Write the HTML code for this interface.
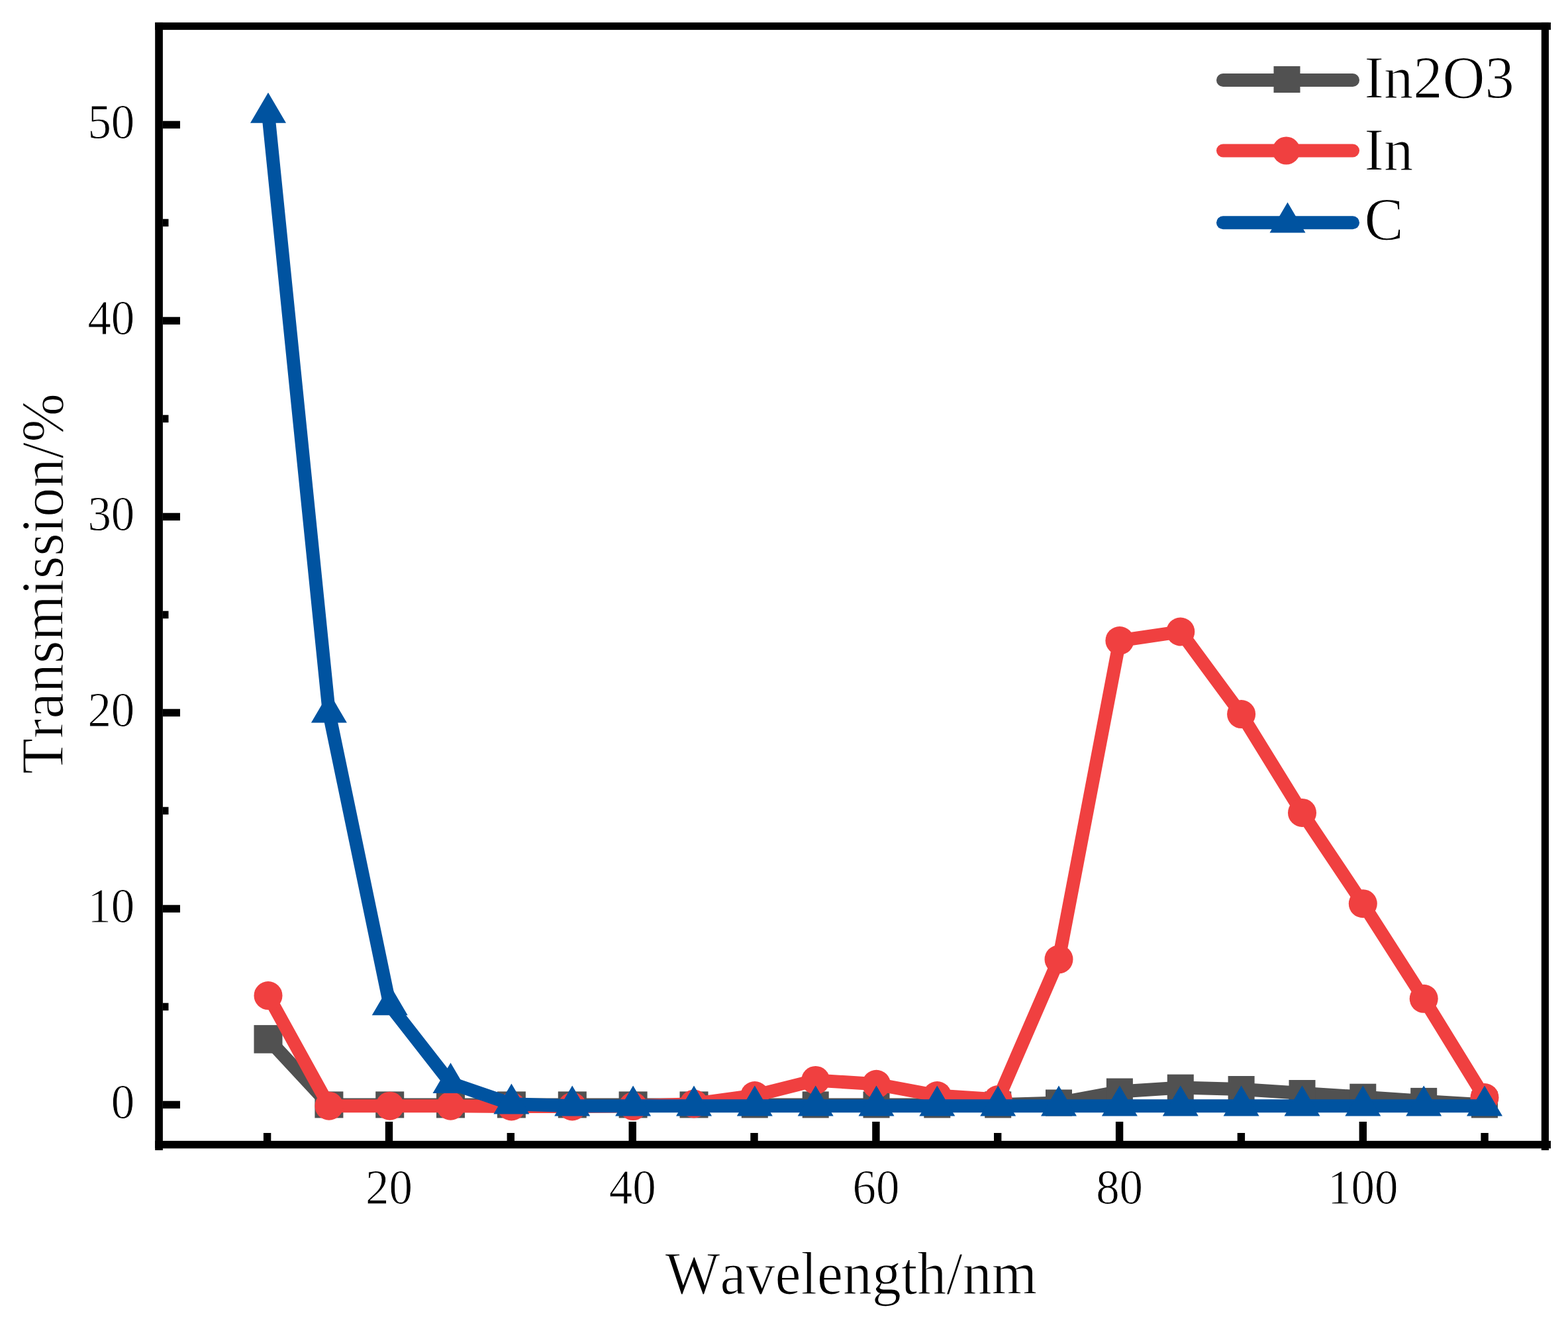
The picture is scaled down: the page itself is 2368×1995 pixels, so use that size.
<!DOCTYPE html>
<html lang="en">
<head>
<meta charset="utf-8">
<title>Transmission vs Wavelength</title>
<style>
html,body{margin:0;padding:0;background:#fff;}
body{width:2368px;height:1995px;}
svg{display:block;}
text{font-family:"Liberation Serif","DejaVu Serif",serif;fill:#000;font-kerning:none;stroke:#fff;stroke-width:0.8px;}
.tick{font-size:72px;}
.tick text{stroke-width:0.9px;}
.title{font-size:90px;stroke-width:1.2px;}
.leg{font-size:90px;stroke-width:1.2px;}
</style>
</head>
<body>
<svg width="2368" height="1995" viewBox="0 0 2368 1995">
<rect x="0" y="0" width="2368" height="1995" fill="#fff"/>

<g fill="#000">
<rect x="234.2" y="33.9" width="2107.8" height="11.2"/>
<rect x="234.2" y="1722.9" width="2107.8" height="11.5"/>
<rect x="234.2" y="33.9" width="11.7" height="1703.2"/>
<rect x="2327.8" y="33.9" width="11.2" height="1703.2"/>
<rect x="246" y="1662.7" width="26" height="11.4"/>
<rect x="246" y="1514.7" width="8.5" height="11.4"/>
<rect x="246" y="1366.7" width="26" height="11.4"/>
<rect x="246" y="1218.7" width="8.5" height="11.4"/>
<rect x="246" y="1070.7" width="26" height="11.4"/>
<rect x="246" y="922.7" width="8.5" height="11.4"/>
<rect x="246" y="774.7" width="26" height="11.4"/>
<rect x="246" y="626.7" width="8.5" height="11.4"/>
<rect x="246" y="478.7" width="26" height="11.4"/>
<rect x="246" y="330.7" width="8.5" height="11.4"/>
<rect x="246" y="182.7" width="26" height="11.4"/>
<rect x="397.9" y="1711" width="11.4" height="12"/>
<rect x="581.8" y="1694" width="11.4" height="29"/>
<rect x="765.6" y="1711" width="11.4" height="12"/>
<rect x="949.5" y="1694" width="11.4" height="29"/>
<rect x="1133.3" y="1711" width="11.4" height="12"/>
<rect x="1317.2" y="1694" width="11.4" height="29"/>
<rect x="1501.0" y="1711" width="11.4" height="12"/>
<rect x="1684.9" y="1694" width="11.4" height="29"/>
<rect x="1868.7" y="1711" width="11.4" height="12"/>
<rect x="2052.6" y="1694" width="11.4" height="29"/>
<rect x="2236.4" y="1711" width="11.4" height="12"/>
</g>
<g class="tick" text-anchor="end">
<text transform="translate(203.3,1688.9) scale(0.985,1.03)">0</text>
<text transform="translate(203.3,1392.9) scale(0.985,1.03)">10</text>
<text transform="translate(203.3,1096.9) scale(0.985,1.03)">20</text>
<text transform="translate(203.3,800.9) scale(0.985,1.03)">30</text>
<text transform="translate(203.3,504.9) scale(0.985,1.03)">40</text>
<text transform="translate(203.3,208.9) scale(0.985,1.03)">50</text>
</g>
<g class="tick" text-anchor="middle">
<text transform="translate(587.5,1818.1) scale(0.985,1.03)">20</text>
<text transform="translate(955.2,1818.1) scale(0.985,1.03)">40</text>
<text transform="translate(1322.9,1818.1) scale(0.985,1.03)">60</text>
<text transform="translate(1690.6,1818.1) scale(0.985,1.03)">80</text>
<text transform="translate(2058.2,1818.1) scale(0.985,1.03)">100</text>
</g>
<text class="title" text-anchor="middle" transform="translate(1285.3,1954.3) scale(0.977,1.01)">Wavelength/nm</text>
<text class="title" text-anchor="middle" transform="translate(95,881.6) rotate(-90) scale(0.983,1.01)">Transmission/%</text>
<polyline points="405.0,1569.4 496.9,1668.4 588.7,1668.4 680.5,1668.4 772.4,1668.4 864.2,1668.4 956.1,1668.4 1048.0,1668.4 1139.8,1668.4 1231.7,1668.4 1323.5,1668.4 1415.3,1668.4 1507.2,1668.4 1599.0,1665.5 1690.9,1648.5 1782.8,1642.6 1874.6,1645.0 1966.5,1651.0 2058.3,1656.7 2150.2,1662.9 2242.0,1668.4" fill="none" stroke="#515151" stroke-width="20" stroke-linejoin="round" stroke-linecap="butt"/>
<g fill="#515151"><rect x="383.5" y="1548.1" width="43" height="42.6"/><rect x="475.4" y="1648.4" width="43" height="40"/><rect x="567.2" y="1648.4" width="43" height="40"/><rect x="659.0" y="1648.4" width="43" height="40"/><rect x="750.9" y="1648.4" width="43" height="40"/><rect x="842.8" y="1648.4" width="43" height="40"/><rect x="934.6" y="1648.4" width="43" height="40"/><rect x="1026.5" y="1648.4" width="43" height="40"/><rect x="1119.8" y="1648.4" width="40" height="40"/><rect x="1211.7" y="1648.4" width="40" height="40"/><rect x="1303.5" y="1648.4" width="40" height="40"/><rect x="1395.3" y="1648.4" width="40" height="40"/><rect x="1487.2" y="1648.4" width="40" height="40"/><rect x="1579.0" y="1645.5" width="40" height="40"/><rect x="1670.9" y="1628.5" width="40" height="40"/><rect x="1762.8" y="1622.6" width="40" height="40"/><rect x="1854.6" y="1625.0" width="40" height="40"/><rect x="1946.5" y="1631.0" width="40" height="40"/><rect x="2038.3" y="1636.7" width="40" height="40"/><rect x="2130.2" y="1642.9" width="40" height="40"/><rect x="2222.0" y="1648.4" width="40" height="40"/></g>
<polyline points="405.0,1503.6 496.9,1670.2 588.7,1670.2 680.5,1670.2 772.4,1671.0 864.2,1671.0 956.1,1670.6 1048.0,1667.0 1139.8,1654.5 1231.7,1631.4 1323.5,1637.3 1415.3,1654.5 1507.2,1660.5 1599.0,1448.8 1690.9,967.5 1782.8,954.0 1874.6,1078.6 1966.5,1227.4 2058.3,1364.7 2150.2,1508.3 2242.0,1657.5" fill="none" stroke="#f04040" stroke-width="20" stroke-linejoin="round" stroke-linecap="butt"/>
<g fill="#f04040"><circle cx="405.0" cy="1503.6" r="21.5"/><circle cx="496.9" cy="1670.2" r="21.5"/><circle cx="588.7" cy="1670.2" r="21.5"/><circle cx="680.5" cy="1670.2" r="21.5"/><circle cx="772.4" cy="1671.0" r="21.5"/><circle cx="864.2" cy="1671.0" r="21.5"/><circle cx="956.1" cy="1670.6" r="21.5"/><circle cx="1048.0" cy="1667.0" r="21.5"/><circle cx="1139.8" cy="1654.5" r="21.5"/><circle cx="1231.7" cy="1631.4" r="21.5"/><circle cx="1323.5" cy="1637.3" r="21.5"/><circle cx="1415.3" cy="1654.5" r="21.5"/><circle cx="1507.2" cy="1660.5" r="21.5"/><circle cx="1599.0" cy="1448.8" r="21.5"/><circle cx="1690.9" cy="967.5" r="21.5"/><circle cx="1782.8" cy="954.0" r="21.5"/><circle cx="1874.6" cy="1078.6" r="21.5"/><circle cx="1966.5" cy="1227.4" r="21.5"/><circle cx="2058.3" cy="1364.7" r="21.5"/><circle cx="2150.2" cy="1508.3" r="21.5"/><circle cx="2242.0" cy="1657.5" r="21.5"/></g>
<polyline points="405.0,170.4 496.9,1076.2 588.7,1518.0 680.5,1635.6 772.4,1667.3 864.2,1670.3 956.1,1670.3 1048.0,1670.3 1139.8,1670.3 1231.7,1670.3 1323.5,1670.3 1415.3,1670.3 1507.2,1670.3 1599.0,1670.3 1690.9,1670.3 1782.8,1670.3 1874.6,1670.3 1966.5,1670.3 2058.3,1670.3 2150.2,1670.3 2242.0,1670.3" fill="none" stroke="#0053a0" stroke-width="20" stroke-linejoin="round" stroke-linecap="butt"/>
<g fill="#0053a0"><polygon points="405.0,139.7 378.0,185.7 432.0,185.7"/><polygon points="496.9,1045.5 469.9,1091.5 523.9,1091.5"/><polygon points="588.7,1487.3 561.7,1533.3 615.7,1533.3"/><polygon points="680.5,1604.9 653.5,1650.9 707.5,1650.9"/><polygon points="772.4,1636.6 745.4,1682.6 799.4,1682.6"/><polygon points="864.2,1639.6 837.2,1685.6 891.2,1685.6"/><polygon points="956.1,1639.6 929.1,1685.6 983.1,1685.6"/><polygon points="1048.0,1639.6 1021.0,1685.6 1075.0,1685.6"/><polygon points="1139.8,1639.6 1112.8,1685.6 1166.8,1685.6"/><polygon points="1231.7,1639.6 1204.7,1685.6 1258.7,1685.6"/><polygon points="1323.5,1639.6 1296.5,1685.6 1350.5,1685.6"/><polygon points="1415.3,1639.6 1388.3,1685.6 1442.3,1685.6"/><polygon points="1507.2,1639.6 1480.2,1685.6 1534.2,1685.6"/><polygon points="1599.0,1639.6 1572.0,1685.6 1626.0,1685.6"/><polygon points="1690.9,1639.6 1663.9,1685.6 1717.9,1685.6"/><polygon points="1782.8,1639.6 1755.8,1685.6 1809.8,1685.6"/><polygon points="1874.6,1639.6 1847.6,1685.6 1901.6,1685.6"/><polygon points="1966.5,1639.6 1939.5,1685.6 1993.5,1685.6"/><polygon points="2058.3,1639.6 2031.3,1685.6 2085.3,1685.6"/><polygon points="2150.2,1639.6 2123.2,1685.6 2177.2,1685.6"/><polygon points="2242.0,1639.6 2215.0,1685.6 2269.0,1685.6"/></g>
<line x1="1847" y1="121" x2="2043" y2="121" stroke="#515151" stroke-width="20" stroke-linecap="round"/>
<g fill="#515151"><rect x="1923.5" y="100.0" width="40" height="40"/></g>
<text class="leg" transform="translate(2060.5,148) scale(0.984,1.01)">In2O3</text>
<line x1="1847" y1="227.5" x2="2043" y2="227.5" stroke="#f04040" stroke-width="20" stroke-linecap="round"/>
<g fill="#f04040"><circle cx="1942.5" cy="227.5" r="21"/></g>
<text class="leg" transform="translate(2060.5,256.5) scale(0.984,1.01)">In</text>
<line x1="1847" y1="336.2" x2="2043" y2="336.2" stroke="#0053a0" stroke-width="20" stroke-linecap="round"/>
<g fill="#0053a0"><polygon points="1944.5,305.5 1917.5,351.5 1971.5,351.5"/></g>
<text class="leg" transform="translate(2060.5,361.5) scale(0.984,1.01)">C</text>
</svg>
</body>
</html>
